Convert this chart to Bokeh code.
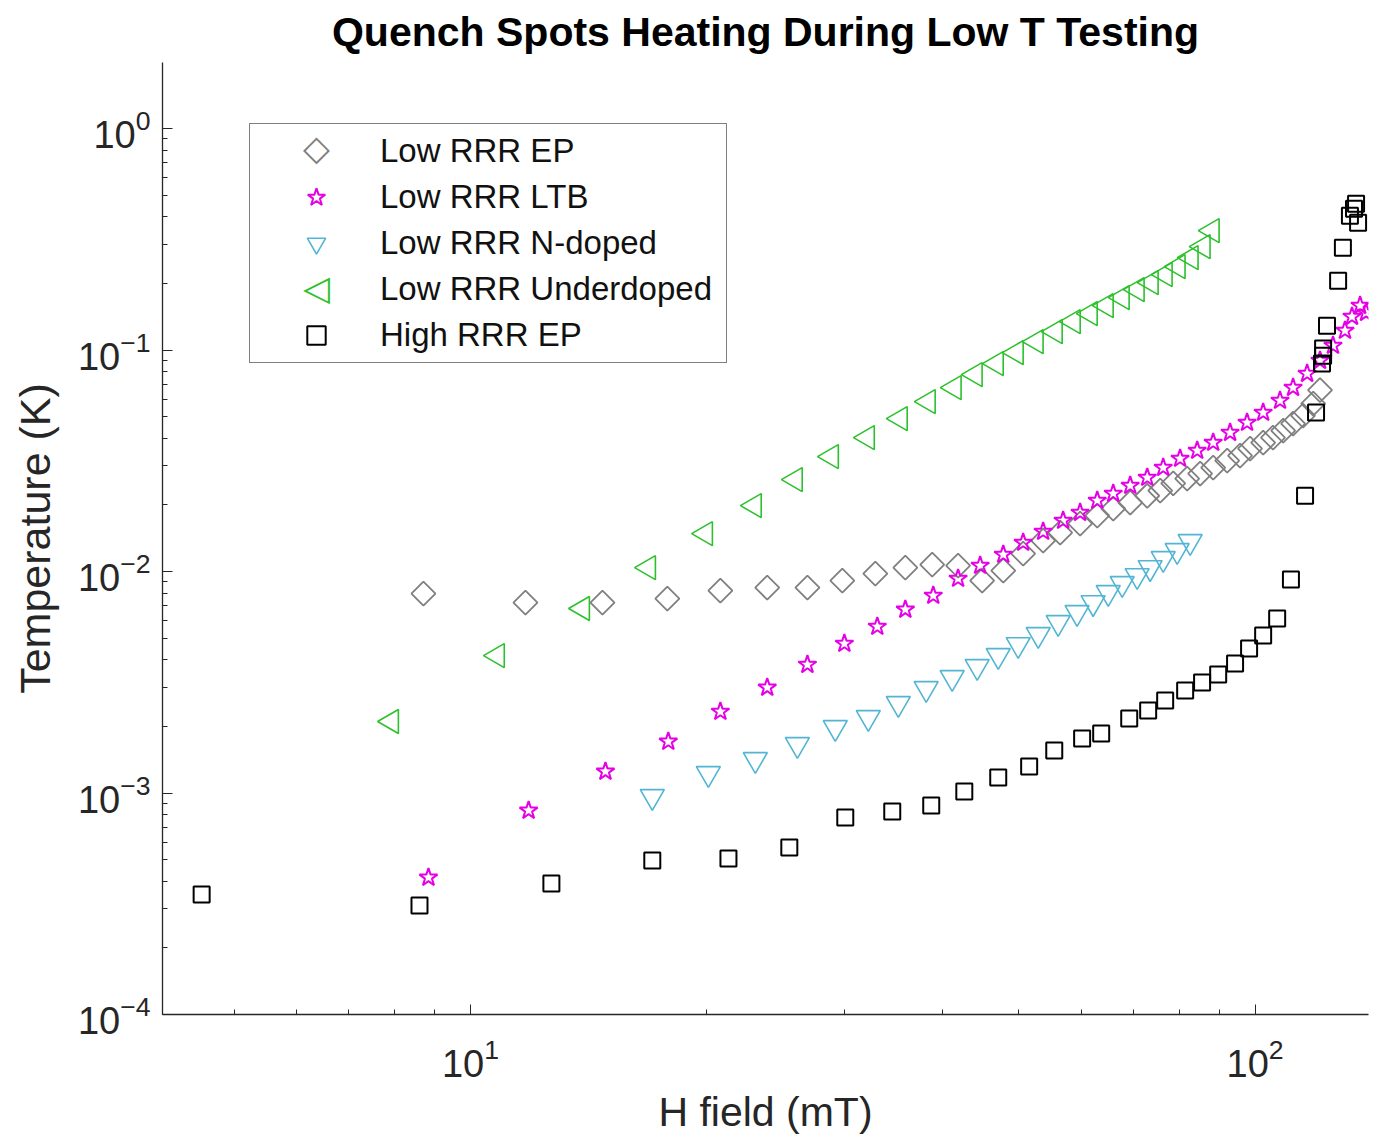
import math
from bokeh.plotting import figure
from bokeh.models import (Range1d, FixedTicker, LogTickFormatter, Legend, LegendItem, Label)
from bokeh.embed import file_html
from bokeh.resources import INLINE

# ---- data ----
H_ep = [8.71, 11.75, 14.73, 17.82, 20.82, 23.89, 26.88, 29.78, 32.81, 35.83, 38.77, 41.83,
        44.89, 47.76, 50.63, 53.69, 56.44, 59.84, 62.93, 65.95, 69.32, 72.87, 75.70, 78.64,
        81.93, 85.11, 88.43, 92.14, 95.69, 98.54, 102.4, 105.4, 108.6, 111.8, 115.1, 118.6, 121.0]
T_ep = [0.00796, 0.00724, 0.00724, 0.00755, 0.00821, 0.00847, 0.00847, 0.00911, 0.00979, 0.01042,
        0.01075, 0.01064, 0.00911, 0.0101, 0.01206, 0.0138, 0.0150, 0.01647, 0.0179, 0.01925,
        0.0205, 0.0220, 0.0232, 0.0250, 0.0263, 0.0277, 0.0295, 0.0317, 0.0334, 0.0359, 0.0382,
        0.0403, 0.0433, 0.0466, 0.0506, 0.0573, 0.066]

H_ltb = [8.84, 11.86, 14.86, 17.87, 20.82, 23.89, 26.88, 29.96, 33.00, 35.83, 38.89, 41.83,
         44.63, 47.76, 50.63, 53.69, 56.93, 59.84, 62.93, 65.95, 69.32, 72.87, 76.37, 80.25,
         84.38, 88.43, 92.93, 97.68, 102.4, 107.6, 111.8, 116.5, 121.0, 125.7, 130.2, 132.9,
         136.1, 138.5]
T_ltb = [4.155e-4, 8.34e-4, 1.251e-3, 1.708e-3, 2.333e-3, 2.995e-3, 3.80e-3, 4.73e-3, 5.645e-3,
         6.74e-3, 7.79e-3, 9.30e-3, 0.01064, 0.01193, 0.01352, 0.01516, 0.01699, 0.01846,
         0.02092, 0.02249, 0.02445, 0.02657, 0.02947, 0.03237, 0.03518, 0.03823, 0.04241,
         0.04707, 0.05222, 0.05916, 0.06771, 0.07830, 0.08965, 0.1048, 0.1225, 0.1416, 0.1588,
         0.1476]

H_nd = [17.05, 20.10, 23.07, 26.10, 29.17, 32.14, 35.10, 38.09, 41.11, 44.24, 47.06, 49.90,
        52.92, 56.11, 59.31, 62.17, 64.99, 67.71, 70.75, 73.50, 76.37, 79.56, 82.65]
T_nd = [9.64e-4, 1.225e-3, 1.416e-3, 1.656e-3, 1.976e-3, 2.193e-3, 2.536e-3, 2.963e-3, 3.322e-3,
        3.724e-3, 4.175e-3, 4.68e-3, 5.195e-3, 5.885e-3, 6.53e-3, 7.24e-3, 8.04e-3, 8.83e-3,
        9.59e-3, 0.01042, 0.01145, 0.01244, 0.01366]

H_ud = [7.93, 10.82, 13.89, 16.86, 19.93, 23.00, 25.94, 28.84, 32.05, 35.30, 38.32, 41.35,
        43.98, 46.79, 49.61, 52.60, 55.63, 58.65, 61.65, 64.61, 67.71, 70.75, 73.72, 76.81,
        79.78, 82.89, 85.86, 88.17]
T_ud = [2.103e-3, 4.175e-3, 6.81e-3, 0.01042, 0.01484, 0.01986, 0.02602, 0.03305, 0.04027,
        0.04906, 0.05855, 0.06771, 0.07751, 0.08693, 0.09743, 0.1092, 0.1212, 0.1345, 0.1462,
        0.1588, 0.1726, 0.1875, 0.2017, 0.2193, 0.2382, 0.2616, 0.2933, 0.3463]

H_hi = [4.543, 8.610, 12.68, 17.05, 21.32, 25.49, 30.04, 34.48, 38.66, 42.60, 47.06, 51.53,
        55.47, 60.20, 63.66, 69.12, 73.07, 76.81, 81.45, 85.60, 89.74, 94.30, 98.26, 102.4,
        106.7, 111.1, 115.8, 119.6, 121.7, 122.1, 122.1, 123.5, 127.6, 129.4, 132.1, 133.7,
        135.3, 134.5]
T_hi = [3.48e-4, 3.105e-4, 3.905e-4, 4.96e-4, 5.06e-4, 5.675e-4, 7.75e-4, 8.25e-4, 8.78e-4,
        1.016e-3, 1.175e-3, 1.317e-3, 1.555e-3, 1.762e-3, 1.856e-3, 2.169e-3, 2.358e-3,
        2.616e-3, 2.903e-3, 3.154e-3, 3.428e-3, 3.842e-3, 4.49e-3, 5.14e-3, 6.135e-3, 9.20e-3,
        0.02203, 0.05222, 0.08693, 0.09445, 0.1016, 0.1290, 0.2060, 0.2903, 0.4047, 0.4353,
        0.3763, 0.4586]

series_names = ["Low RRR EP", "Low RRR LTB", "Low RRR N-doped", "Low RRR Underdoped", "High RRR EP"]
x_major = [10, 100]
x_minor = [5, 6, 7, 8, 9, 20, 30, 40, 50, 60, 70, 80, 90]

FONT = "Liberation Sans"
AX = "#262626"
C_EP, C_LTB, C_ND, C_UD, C_HI = "#808080", "#e600e6", "#52b5d3", "#2cc12c", "black"

p = figure(width=1387, height=1140, x_axis_type="log", y_axis_type="log",
           x_range=Range1d(4.05, 139.5), y_range=Range1d(1e-4, 1.99),
           output_backend="svg", toolbar_location=None,
           min_border_left=162, min_border_right=19, min_border_top=62, min_border_bottom=126,
           title="Quench Spots Heating During Low T Testing")
p.background_fill_color = "white"
p.border_fill_color = "white"
p.outline_line_color = None
p.grid.visible = False

p.title.text_font = FONT
p.title.text_font_size = "41px"
p.title.text_font_style = "bold"
p.title.text_color = "black"
p.title.align = "center"
p.title.vertical_align = "top"
p.title.standoff = 12

for ax in (p.xaxis[0], p.yaxis[0]):
    ax.axis_line_color = AX
    ax.axis_line_width = 1.3
    ax.major_tick_line_color = AX
    ax.minor_tick_line_color = AX
    ax.major_tick_in = 10
    ax.major_tick_out = 0
    ax.minor_tick_in = 5
    ax.minor_tick_out = 0
    ax.major_label_text_font = FONT
    ax.major_label_text_font_size = "38px"
    ax.major_label_text_color = AX
    ax.axis_label_text_font = FONT
    ax.axis_label_text_font_style = "normal"
    ax.axis_label_text_color = AX

p.xaxis.ticker = FixedTicker(ticks=x_major, minor_ticks=x_minor)
p.xaxis.formatter = LogTickFormatter()
p.xaxis.axis_label = "H field (mT)"
p.xaxis.axis_label_text_font_size = "41px"
p.xaxis.major_label_standoff = 23
p.xaxis.axis_label_standoff = 9
p.yaxis.axis_label = "Temperature (K)"
p.yaxis.axis_label_text_font_size = "43px"
p.yaxis.major_label_standoff = 12
p.yaxis.axis_label_standoff = 16

r_ep = p.scatter(H_ep, T_ep, marker="square", angle=math.pi / 4, size=17,
                 line_color=C_EP, fill_color=None, line_width=1.8)
r_ltb = p.scatter(H_ltb, T_ltb, marker="star", size=19,
                  line_color=C_LTB, fill_color=None, line_width=2)
r_nd = p.scatter(H_nd, T_nd, marker="inverted_triangle", size=24,
                 line_color=C_ND, fill_color=None, line_width=1.6)
r_ud = p.scatter(H_ud, T_ud, marker="triangle", angle=math.pi / 2, size=24,
                 line_color=C_UD, fill_color=None, line_width=1.6)
r_hi = p.scatter(H_hi, T_hi, marker="square", size=16,
                 line_color=C_HI, fill_color=None, line_width=2)

# legend proxies for the rotated markers (legend symbols drawn as text glyphs below)
px_ep = p.scatter([], [], marker="square", line_alpha=0, fill_alpha=0)
px_ud = p.scatter([], [], marker="square", line_alpha=0, fill_alpha=0)

# symbols for the two rotated markers, placed where the legend draws its glyphs
for sym, col, yoff in (("\u25C7", C_EP, 867), ("\u25C1", C_UD, 727)):
    p.add_layout(Label(x=154, y=yoff, x_units="screen", y_units="screen", text=sym,
                       text_font="DejaVu Sans", text_font_size="35px", text_color=col,
                       text_align="center", text_baseline="middle"))

items = [LegendItem(label=n, renderers=[r]) for n, r in
         zip(series_names, [px_ep, r_ltb, r_nd, px_ud, r_hi])]
legend = Legend(items=items, location=(87, 651), orientation="vertical",
                border_line_color="black", border_line_width=1.2,
                background_fill_color="white", background_fill_alpha=0.0,
                label_text_font=FONT, label_text_font_size="33px", label_text_color="#111111",
                glyph_width=124, glyph_height=46, label_height=46, label_width=342, spacing=0,
                padding=4, label_standoff=2, margin=0)
p.add_layout(legend)

open("out.html", "w").write(file_html(p, INLINE))
